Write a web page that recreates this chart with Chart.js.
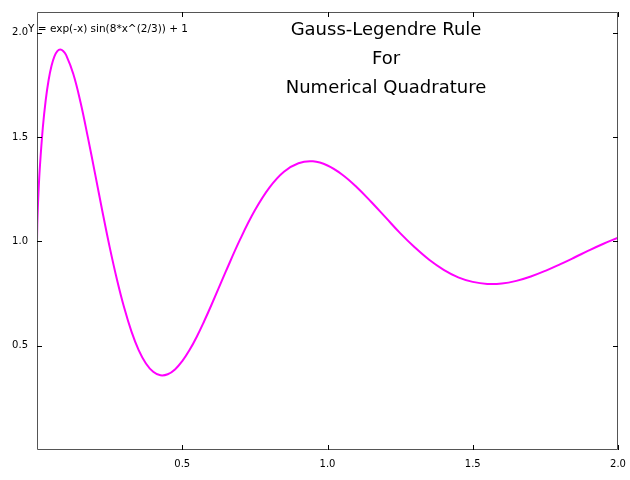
<!DOCTYPE html>
<html>
<head>
<meta charset="utf-8">
<title>Gauss-Legendre Rule</title>
<script src="https://cdn.jsdelivr.net/npm/chart.js@4.4.1/dist/chart.umd.min.js"></script>
<style>
    html, body { margin: 0; padding: 0; background: #ffffff; }
    #wrap { width: 630px; height: 480px; position: relative; }
</style>
</head>
<body>
<div id="wrap"><canvas id="quadChart"></canvas></div>
<script>
// Curve samples
const xValues = [0, 0.001, 0.002, 0.005, 0.01, 0.02, 0.03, 0.04, 0.05, 0.06, 0.07, 0.08, 0.09, 0.10,
    0.125, 0.15, 0.175, 0.20, 0.225, 0.25, 0.275, 0.30, 0.325, 0.35, 0.375, 0.40, 0.425, 0.45, 0.475,
    0.50, 0.525, 0.55, 0.575, 0.60,
    0.65, 0.70, 0.75, 0.80, 0.85, 0.90, 0.95, 1.00, 1.05, 1.10, 1.15, 1.20, 1.25, 1.30, 1.35,
    1.40, 1.45, 1.50, 1.55, 1.60, 1.65, 1.70, 1.75, 1.80, 1.85, 1.90, 1.95, 2.00];
const yValues = [1.000, 1.080, 1.126, 1.231, 1.359, 1.545, 1.677, 1.774, 1.842, 1.887, 1.912, 1.920, 1.913, 1.894,
    1.803, 1.666, 1.500, 1.324, 1.145, 0.974, 0.819, 0.683, 0.569, 0.479, 0.415, 0.375, 0.358, 0.363, 0.386,
    0.426, 0.479, 0.543, 0.616, 0.694,
    0.856, 1.012, 1.149, 1.258, 1.334, 1.375, 1.384, 1.364, 1.321, 1.261, 1.190, 1.115, 1.040, 0.972, 0.912,
    0.864, 0.828, 0.806, 0.796, 0.798, 0.811, 0.832, 0.859, 0.890, 0.923, 0.957, 0.989, 1.018];
const xTicks = [0.5, 1.0, 1.5, 2.0];
const yTicks = [0.5, 1.0, 1.5, 2.0];
const titleLines = ['Gauss-Legendre Rule', 'For', 'Numerical Quadrature'];
const curveLabel = 'Y = exp(-x) sin(8*x^(2/3)) + 1';

const FONT = "'DejaVu Sans', sans-serif";

// Inward ticks on all four sides plus the text inside the plot
const framePlugin = {
    id: 'framePlugin',
    afterDraw(chart) {
        const ctx = chart.ctx;
        const area = chart.chartArea;
        const xs = chart.scales.x;
        const ys = chart.scales.y;
        ctx.save();
        ctx.strokeStyle = '#555555';
        ctx.lineWidth = 1;
        ctx.beginPath();
        ctx.rect(area.left + 0.5, area.top + 0.5, area.right - area.left - 1, area.bottom - area.top - 1);
        ctx.stroke();

        ctx.strokeStyle = '#000000';
        ctx.beginPath();
        xTicks.forEach(v => {
            const px = Math.round(xs.getPixelForValue(v)) + 0.5;
            ctx.moveTo(px, area.bottom);
            ctx.lineTo(px, area.bottom - 5);
            ctx.moveTo(px, area.top);
            ctx.lineTo(px, area.top + 5);
        });
        yTicks.forEach(v => {
            const py = Math.round(ys.getPixelForValue(v)) + 0.5;
            ctx.moveTo(area.left, py);
            ctx.lineTo(area.left + 5, py);
            ctx.moveTo(area.right, py);
            ctx.lineTo(area.right - 5, py);
        });
        ctx.stroke();

        ctx.fillStyle = '#000000';
        ctx.textAlign = 'center';
        ctx.textBaseline = 'middle';
        ctx.font = '18px ' + FONT;
        titleLines.forEach((line, i) => {
            ctx.fillText(line, 386, 30 + i * 29);
        });

        ctx.textAlign = 'left';
        ctx.font = '10.5px ' + FONT;
        ctx.fillText(curveLabel, 28, 29);
        ctx.restore();
    }
};

function initializeChart() {
    const ctx = document.getElementById('quadChart').getContext('2d');
    new Chart(ctx, {
        type: 'scatter',
        data: {
            datasets: [{
                data: xValues.map((x, i) => ({ x: x, y: yValues[i] })),
                showLine: true,
                borderColor: '#ff00ff',
                borderWidth: 2,
                pointRadius: 0,
                tension: 0.4,
                fill: false
            }]
        },
        options: {
            responsive: true,
            maintainAspectRatio: false,
            animation: false,
            layout: { padding: { top: 12, right: 12, left: 0, bottom: 0 } },
            plugins: {
                legend: { display: false },
                tooltip: { enabled: false }
            },
            scales: {
                x: {
                    type: 'linear',
                    min: 0,
                    max: 2,
                    // grid hidden, tick length only used as label offset
                    grid: { display: false, drawTicks: true, tickLength: 8 },
                    border: { display: false },
                    afterFit(scale) { scale.height = 30; },
                    afterBuildTicks(scale) { scale.ticks = xTicks.map(v => ({ value: v })); },
                    ticks: {
                        padding: 0,
                        maxRotation: 0,
                        color: '#000000',
                        font: { family: FONT, size: 10 },
                        callback: v => v.toFixed(1)
                    }
                },
                y: {
                    type: 'linear',
                    min: 0,
                    max: 2.1,
                    grid: { display: false, drawTicks: true, tickLength: 9 },
                    border: { display: false },
                    afterFit(scale) { scale.width = 37; },
                    afterBuildTicks(scale) { scale.ticks = yTicks.map(v => ({ value: v })); },
                    ticks: {
                        padding: 0,
                        color: '#000000',
                        font: { family: FONT, size: 10 },
                        callback: v => v.toFixed(1)
                    }
                }
            }
        },
        plugins: [framePlugin]
    });
}

document.addEventListener('DOMContentLoaded', initializeChart);
</script>
</body>
</html>
